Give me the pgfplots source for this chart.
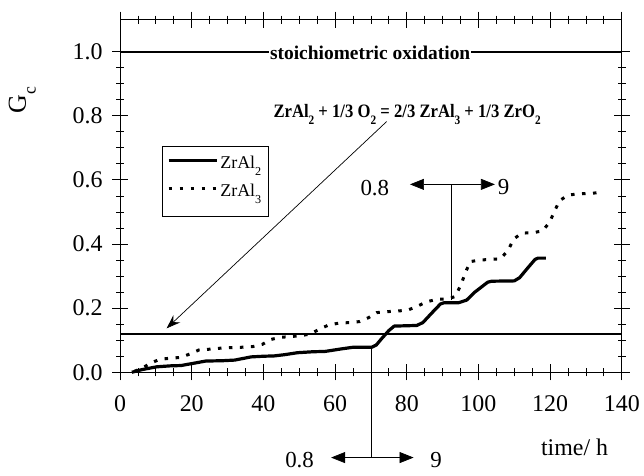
\documentclass[border=0pt]{standalone}
\usepackage{pgfplots}
\pgfplotsset{compat=1.18}
\usepackage{graphicx}
\usepackage{fontspec}
\setmainfont{Liberation Serif}
\usetikzlibrary{arrows.meta}
\newcommand{\sub}[1]{\raisebox{-0.38em}{\scalebox{0.68}{#1}}}
\begin{document}
\begin{tikzpicture}
\begin{axis}[
  scale only axis,
  width=501.7bp, height=352.7bp,
  xmin=0, xmax=140, ymin=0, ymax=1.1,
  clip=false,
  axis line style={line width=0.9bp},
  xtick={0,20,40,60,80,100,120,140},
  ytick={0,0.2,0.4,0.6,0.8,1.0},
  minor x tick num=3, minor y tick num=3,
  tick align=center,
  major tick length=16bp, minor tick length=8bp,
  every tick/.style={black, line width=0.8bp},
  /pgf/number format/assume math mode=true,
  yticklabel style={/pgf/number format/fixed, /pgf/number format/fixed zerofill, /pgf/number format/precision=1, xshift=-6bp},
  xticklabel style={/pgf/number format/fixed, /pgf/number format/precision=0, yshift=-12bp},
  tick label style={font=\fontsize{24}{28}\selectfont},
  xlabel={time/ h},
  xlabel style={font=\fontsize{24}{28}\selectfont, at={(rel axis cs:0.906,-0.212)}, anchor=center},
  ylabel={G\sub{c}},
  ylabel style={font=\fontsize{26}{30}\selectfont, at={(rel axis cs:-0.195,0.772)}, anchor=center},
  legend style={at={(0.0831,0.642)}, anchor=north west, draw=black, line width=0.8bp,
    font=\fontsize{18}{20}\selectfont, inner xsep=5bp, inner ysep=7bp,
    cells={anchor=base west}, nodes={inner xsep=2bp, inner ysep=1bp, text height=14.3bp, text depth=12bp}},
  legend image code/.code={\draw[#1] (0bp,8.3bp) -- (48bp,8.3bp);},
]
% ZrAl2
\addplot[black, line width=3.2bp, line join=round] coordinates {
(3.3,0) (6,0.008) (10.2,0.017) (14,0.02) (17,0.021) (20.5,0.028) (23.9,0.035) (28.5,0.036)
(32,0.038) (36.6,0.048) (40,0.05) (43,0.051) (46,0.055) (49.5,0.061) (53.8,0.064) (57.2,0.065)
(61.8,0.073) (65,0.078) (70.2,0.078) (71.5,0.085) (73,0.105) (75,0.13) (76.5,0.144) (82.8,0.146)
(84.5,0.155) (87,0.185) (89.4,0.213) (90.5,0.217) (94.5,0.217) (96.7,0.225) (99,0.25)
(102.6,0.281) (103.7,0.284) (110,0.285) (111.5,0.295) (113.5,0.322) (115.8,0.352) (116.6,0.356) (118.8,0.356)
};
\addlegendentry{ZrAl\sub{2}}
% ZrAl3
\addplot[black, line width=3bp, line cap=butt, dash pattern=on 3.5bp off 7.5bp] coordinates {
(4,0.003) (6.1,0.012) (8.4,0.028) (11,0.04) (14,0.044) (16.7,0.046) (19.5,0.057) (22.1,0.07)
(25.1,0.072) (27.9,0.075) (30.9,0.077) (33.9,0.078) (37,0.08) (39.7,0.087) (42,0.102) (44.6,0.109)
(47.4,0.111) (50.2,0.114) (53,0.119) (55.6,0.134) (58.1,0.147) (60.9,0.153) (64,0.155) (66.8,0.158)
(69.3,0.17) (71.6,0.186) (74.4,0.189) (77.5,0.191) (80.3,0.194) (82.8,0.205) (85.6,0.22) (88.6,0.228)
(91.1,0.228) (93.5,0.236) (95.1,0.272) (96.3,0.309) (97.7,0.345) (100.4,0.35) (103.4,0.352) (106.2,0.354)
(108.3,0.381) (109.9,0.416) (112.1,0.434) (115.1,0.435) (117.9,0.441) (119.8,0.467) (121.2,0.501)
(122.6,0.535) (125.1,0.553) (127.9,0.556) (130.7,0.558) (133.9,0.56)
};
\addlegendentry{ZrAl\sub{3}}
% reference lines
\addplot[black, line width=2bp, forget plot] coordinates {(0,1) (140,1)};
\addplot[black, line width=2bp, forget plot] coordinates {(0,0.118) (140,0.118)};
\node[fill=white, inner xsep=1bp, inner ysep=2bp, font=\fontsize{19.5}{22}\selectfont\bfseries]
  at (axis cs:69.8,0.995) {stoichiometric oxidation};
\node[font=\fontsize{19}{22}\selectfont\bfseries] at (axis cs:80.1,0.803)
  {\scalebox{0.88}[1]{ZrAl\sub{2} + 1/3 O\sub{2} = 2/3 ZrAl\sub{3} + 1/3 ZrO\sub{2}}};
% diagonal arrow
\draw[line width=0.7bp, -{Stealth[length=14bp,width=10bp,inset=5bp]}] (axis cs:74.4,0.782) -- (axis cs:13.0,0.137);
% upper 0.8 / 9 marker
\draw[line width=0.7bp] (axis cs:92.4,0.225) -- (axis cs:92.4,0.586);
\draw[line width=0.7bp, {Triangle[length=14bp,width=11bp]}-{Triangle[length=14bp,width=11bp]}] (axis cs:80.9,0.586) -- (axis cs:104.6,0.586);
\node[font=\fontsize{23}{27}\selectfont] at (axis cs:71.1,0.574) {0.8};
\node[font=\fontsize{23}{27}\selectfont] at (axis cs:107,0.579) {9};
% lower 0.8 / 9 marker
\draw[line width=0.7bp] (axis cs:70.2,0.078) -- (axis cs:70.2,-0.266);
\draw[line width=0.7bp, {Triangle[length=14bp,width=11bp]}-{Triangle[length=14bp,width=11bp]}] (axis cs:58.9,-0.266) -- (axis cs:81.9,-0.266);
\node[font=\fontsize{23}{27}\selectfont] at (axis cs:50.1,-0.273) {0.8};
\node[font=\fontsize{23}{27}\selectfont] at (axis cs:88.2,-0.273) {9};
% page extent
\path (axis cs:-33.5,1.161) rectangle (axis cs:146.2,-0.323);
\end{axis}
\end{tikzpicture}
\end{document}
